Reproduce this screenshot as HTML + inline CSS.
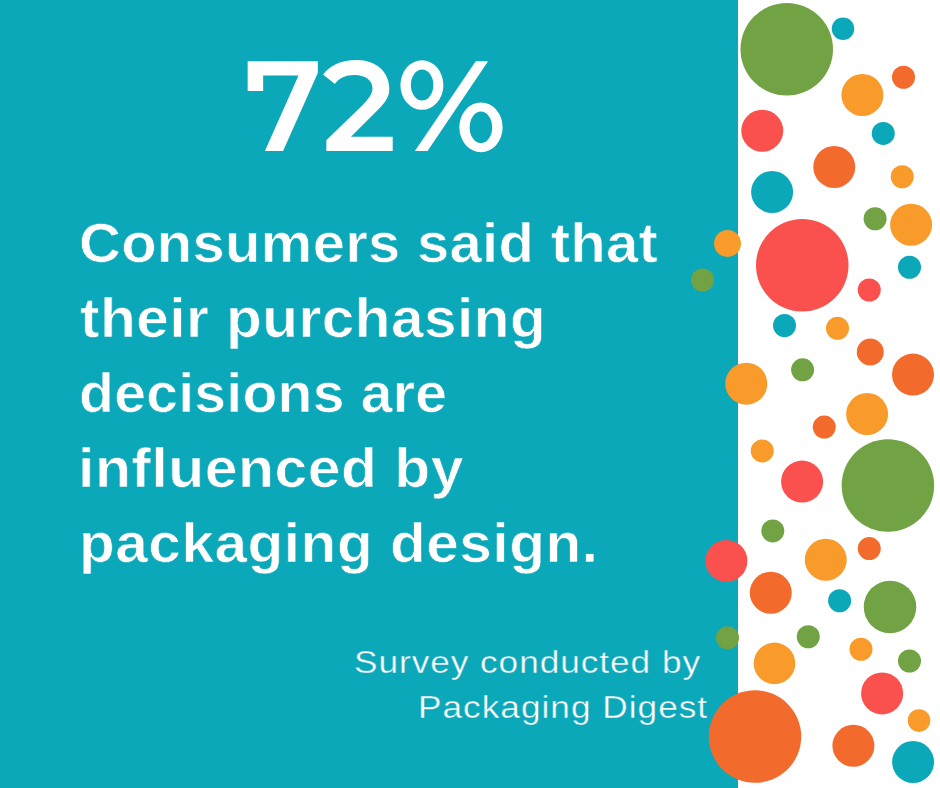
<!DOCTYPE html>
<html><head><meta charset="utf-8">
<style>
html,body{margin:0;padding:0;}
body{width:940px;height:788px;position:relative;overflow:hidden;background:#fff;font-family:"Liberation Sans",sans-serif;color:#fff;}
.panel{position:absolute;left:0;top:0;width:738px;height:788px;background:#0ba8ba;}
.t{position:absolute;white-space:pre;transform-origin:0 0;line-height:1;}
.big{font-weight:bold;}
.b{font-weight:bold;-webkit-text-stroke:0.7px #0ba8ba;}
.s{font-weight:normal;-webkit-text-stroke:0.4px #0ba8ba;}
svg{position:absolute;left:0;top:0;}
</style></head><body>
<div class="panel"></div>
<svg width="940" height="788" viewBox="0 0 940 788">
<g fill="#fff">
<path d="M247.67,61.15 L317.8,61.15 L317.8,72.9 L283.07,150.9 L264.9,150.9 L298.5,75.55 L263.15,75.55 L263.15,91 L247.67,91 Z"/>
<path d="M323.11,74.61 C329,66 341,60.08 357.03,60.08 C376,60.08 389.33,72 389.33,89 C389.33,97 385,103 377.22,110.5 L350.97,136.79 L392.70,136.79 L392.70,150.92 L326.34,150.92 L326.34,140.15 L362.41,105.16 C369,98.5 372.51,94 372.51,88.34 C372.51,80 365,74.88 354.34,74.88 C346,74.88 339,78 334.82,83.90 Z"/>
<path fill-rule="evenodd" d="M421.9,60.35 A21.5,24.75 0 1 1 421.9,109.85 A21.5,24.75 0 1 1 421.9,60.35 Z M422.1,69.53 A11.23,15.47 0 1 0 422.1,100.47 A11.23,15.47 0 1 0 422.1,69.53 Z"/>
<path fill-rule="evenodd" d="M480.97,102.44 A21.66,24.9 0 1 1 480.97,152.24 A21.66,24.9 0 1 1 480.97,102.44 Z M480.9,111.6 A11.23,15.8 0 1 0 480.9,143.2 A11.23,15.8 0 1 0 480.9,111.6 Z"/>
<path d="M475.72,61.15 L488.1,61.15 L427.56,150.88 L414.9,150.88 Z"/>
</g>
</svg>
<div class="t b" id="l1" style="left:78.91px;top:215.40px;font-size:56px;transform:scaleX(1.0350);letter-spacing:0.295px;">Consumers said that</div>
<div class="t b" id="l2" style="left:79.74px;top:290.30px;font-size:56px;transform:scaleX(1.0450);letter-spacing:0.466px;">their purchasing</div>
<div class="t b" id="l3" style="left:78.75px;top:364.60px;font-size:56px;transform:scaleX(1.0200);letter-spacing:0.245px;">decisions are</div>
<div class="t b" id="l4" style="left:78.14px;top:440.00px;font-size:56px;transform:scaleX(1.0500);letter-spacing:0.516px;">influenced by</div>
<div class="t b" id="l5" style="left:79.16px;top:514.50px;font-size:56px;transform:scaleX(1.0450);letter-spacing:0.502px;">packaging design.</div>
<div class="t s" id="l6" style="left:353.68px;top:645.90px;font-size:32px;transform:scaleX(1.1000);letter-spacing:0.874px;">Survey conducted by</div>
<div class="t s" id="l7" style="left:417.71px;top:690.90px;font-size:32px;transform:scaleX(1.1000);letter-spacing:0.921px;">Packaging Digest</div>
<svg width="940" height="788" viewBox="0 0 940 788">
<circle cx="786.75" cy="49.25" r="46.25" fill="#71a243"/>
<circle cx="843" cy="28.75" r="11.25" fill="#0ba8ba"/>
<circle cx="862.4" cy="95" r="21" fill="#f99b2a"/>
<circle cx="903.5" cy="77.25" r="11.5" fill="#f26b2d"/>
<circle cx="762.25" cy="130.75" r="21" fill="#fa504e"/>
<circle cx="883.25" cy="133.4" r="11.5" fill="#0ba8ba"/>
<circle cx="834.25" cy="167" r="21" fill="#f26b2d"/>
<circle cx="902.25" cy="176.75" r="11.5" fill="#f99b2a"/>
<circle cx="772.1" cy="192" r="21" fill="#0ba8ba"/>
<circle cx="875.1" cy="218.75" r="11.5" fill="#71a243"/>
<circle cx="911.1" cy="224.75" r="21" fill="#f99b2a"/>
<circle cx="727.5" cy="243.5" r="13.5" fill="#f99b2a"/>
<circle cx="802.25" cy="265.25" r="46.25" fill="#fa504e"/>
<circle cx="909.5" cy="267.25" r="11.5" fill="#0ba8ba"/>
<circle cx="869.25" cy="290" r="11.5" fill="#fa504e"/>
<circle cx="784.5" cy="325.5" r="11.5" fill="#0ba8ba"/>
<circle cx="837.5" cy="328.25" r="11.5" fill="#f99b2a"/>
<circle cx="702.5" cy="280" r="11.5" fill="#71a243"/>
<circle cx="870.25" cy="352" r="13.5" fill="#f26b2d"/>
<circle cx="913" cy="374.6" r="21" fill="#f26b2d"/>
<circle cx="802.6" cy="369.8" r="11.5" fill="#71a243"/>
<circle cx="746.3" cy="383.7" r="21" fill="#f99b2a"/>
<circle cx="867.1" cy="414" r="21" fill="#f99b2a"/>
<circle cx="824.25" cy="427.1" r="11.5" fill="#f26b2d"/>
<circle cx="762.25" cy="450.9" r="11.5" fill="#f99b2a"/>
<circle cx="802.1" cy="481.6" r="21" fill="#fa504e"/>
<circle cx="887.9" cy="485.5" r="46.25" fill="#71a243"/>
<circle cx="772.75" cy="530.9" r="11.5" fill="#71a243"/>
<circle cx="726.4" cy="560.9" r="21" fill="#fa504e"/>
<circle cx="825.75" cy="559.75" r="21" fill="#f99b2a"/>
<circle cx="869.25" cy="548.6" r="11.5" fill="#f26b2d"/>
<circle cx="770.75" cy="592.75" r="21" fill="#f26b2d"/>
<circle cx="839.6" cy="600.75" r="11.5" fill="#0ba8ba"/>
<circle cx="890" cy="606.9" r="26.25" fill="#71a243"/>
<circle cx="727.5" cy="637.75" r="11.5" fill="#71a243"/>
<circle cx="808.25" cy="636.75" r="11.5" fill="#71a243"/>
<circle cx="861" cy="649.25" r="11.5" fill="#f99b2a"/>
<circle cx="774.5" cy="663.4" r="20.8" fill="#f99b2a"/>
<circle cx="909.5" cy="661" r="11.5" fill="#71a243"/>
<circle cx="882.1" cy="693.4" r="21" fill="#fa504e"/>
<circle cx="919" cy="720.6" r="11.3" fill="#f99b2a"/>
<circle cx="755" cy="736.6" r="46.25" fill="#f26b2d"/>
<circle cx="853.4" cy="745.75" r="21" fill="#f26b2d"/>
<circle cx="913.1" cy="762" r="21" fill="#0ba8ba"/>
</svg>
</body></html>
